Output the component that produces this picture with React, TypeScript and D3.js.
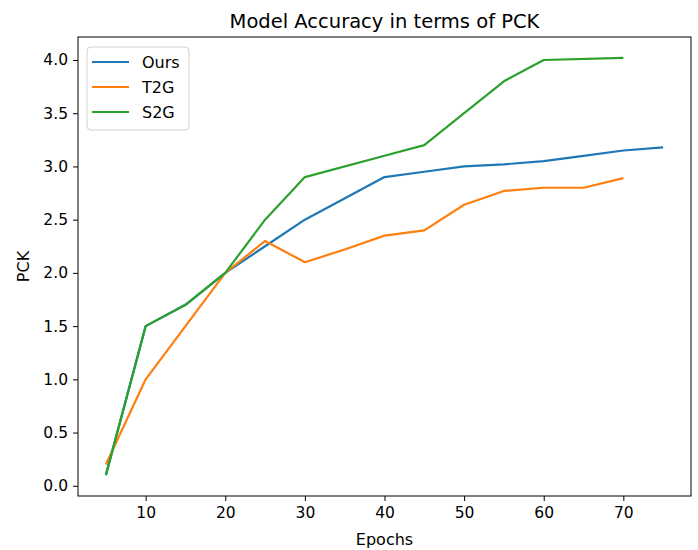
import React, { useEffect, useRef } from "react";
import * as d3 from "d3";

// epochs and PCK
const oursEpochs = [5, 10, 15, 20, 25, 30, 40, 45, 50, 55, 60, 65, 70, 75];
const oursPck = [0.1, 1.5, 1.7, 2.0, 2.25, 2.5, 2.9, 2.95, 3.0, 3.02, 3.05, 3.1, 3.15, 3.18];

const t2gEpochs = [5, 10, 15, 20, 25, 30, 35, 40, 45, 50, 55, 60, 65, 70];
const t2gPck = [0.2, 1.0, 1.5, 2.0, 2.3, 2.1, 2.22, 2.35, 2.4, 2.64, 2.77, 2.8, 2.8, 2.89];

const s2gEpochs = [5, 10, 15, 20, 25, 30, 40, 45, 50, 55, 60, 70];
const s2gPck = [0.1, 1.5, 1.7, 2.0, 2.5, 2.9, 3.1, 3.2, 3.5, 3.8, 4.0, 4.02];

const seriesNames = ["Ours", "T2G", "S2G"];
const seriesColors = ["#1f77b4", "#ff7f0e", "#2ca02c"];
const xTicks = [10, 20, 30, 40, 50, 60, 70];
const yTicks = [0, 0.5, 1.0, 1.5, 2.0, 2.5, 3.0, 3.5, 4.0];

const App = () => {
  const ref = useRef<SVGSVGElement>(null);

  useEffect(() => {
    var width = 698,
      height = 550;
    var margin = { top: 37, right: 7, bottom: 54, left: 78 };
    var font = "DejaVu Sans, sans-serif";

    var svg = d3.select(ref.current);
    svg.selectAll("*").remove();

    var series = [
      { name: seriesNames[0], xs: oursEpochs, ys: oursPck },
      { name: seriesNames[1], xs: t2gEpochs, ys: t2gPck },
      { name: seriesNames[2], xs: s2gEpochs, ys: s2gPck },
    ];

    // matplotlib style 5% padding
    var allX = series.flatMap((s) => s.xs);
    var allY = series.flatMap((s) => s.ys);
    var xMin = d3.min(allX) as number,
      xMax = d3.max(allX) as number;
    var yMin = d3.min(allY) as number,
      yMax = d3.max(allY) as number;
    var xPad = (xMax - xMin) * 0.05,
      yPad = (yMax - yMin) * 0.05;

    var xScale = d3
      .scaleLinear()
      .domain([xMin - xPad, xMax + xPad])
      .range([margin.left, width - margin.right]);
    var yScale = d3
      .scaleLinear()
      .domain([yMin - yPad, yMax + yPad])
      .range([height - margin.bottom, margin.top]);

    var color = d3.scaleOrdinal<string, string>().domain(seriesNames).range(seriesColors);

    // title
    svg
      .append("text")
      .attr("x", (margin.left + width - margin.right) / 2)
      .attr("y", 28)
      .attr("text-anchor", "middle")
      .style("font-family", font)
      .style("font-size", "19.5px")
      .style("fill", "#000")
      .text("Model Accuracy in terms of PCK");

    // axes
    var xAxis = d3
      .axisBottom(xScale)
      .tickValues(xTicks)
      .tickFormat(d3.format("d"))
      .tickSize(5)
      .tickPadding(6);
    var yAxis = d3
      .axisLeft(yScale)
      .tickValues(yTicks)
      .tickFormat(d3.format(".1f"))
      .tickSize(5)
      .tickPadding(5);

    var gx = svg
      .append("g")
      .attr("transform", "translate(0," + (height - margin.bottom) + ")")
      .call(xAxis);
    var gy = svg
      .append("g")
      .attr("transform", "translate(" + margin.left + ",0)")
      .call(yAxis);

    [gx, gy].forEach(function (g) {
      g.select(".domain").remove();
      g.selectAll("line").attr("stroke", "#000").attr("stroke-width", 1);
      g.selectAll("text")
        .style("font-family", font)
        .style("font-size", "15.5px")
        .style("fill", "#000");
    });

    // lines
    var line = d3
      .line<[number, number]>()
      .x(function (d) {
        return xScale(d[0]);
      })
      .y(function (d) {
        return yScale(d[1]);
      });

    svg
      .selectAll(".series")
      .data(series)
      .enter()
      .append("path")
      .attr("class", "series")
      .attr("fill", "none")
      .attr("stroke-width", 2.2)
      .attr("stroke-linejoin", "round")
      .attr("stroke", function (d) {
        return color(d.name);
      })
      .attr("d", function (d) {
        return line(d.xs.map((x, i) => [x, d.ys[i]] as [number, number]));
      });

    // frame
    svg
      .append("rect")
      .attr("x", margin.left)
      .attr("y", margin.top)
      .attr("width", width - margin.left - margin.right)
      .attr("height", height - margin.top - margin.bottom)
      .attr("fill", "none")
      .attr("stroke", "#000")
      .attr("stroke-width", 1);

    // axis labels
    svg
      .append("text")
      .attr("x", (margin.left + width - margin.right) / 2)
      .attr("y", 545)
      .attr("text-anchor", "middle")
      .style("font-family", font)
      .style("font-size", "16px")
      .text("Epochs");

    svg
      .append("text")
      .attr("transform", "translate(29," + (margin.top + height - margin.bottom) / 2 + ") rotate(-90)")
      .attr("text-anchor", "middle")
      .style("font-family", font)
      .style("font-size", "16px")
      .text("PCK");

    // legend
    var legend = svg.append("g").attr("transform", "translate(87,47)");
    legend
      .append("rect")
      .attr("width", 102)
      .attr("height", 83)
      .attr("rx", 4)
      .attr("fill", "#fff")
      .attr("fill-opacity", 0.8)
      .attr("stroke", "#d0d0d0");

    var item = legend
      .selectAll(".item")
      .data(seriesNames)
      .enter()
      .append("g")
      .attr("class", "item")
      .attr("transform", function (d, i) {
        return "translate(0," + (15 + i * 25) + ")";
      });
    item
      .append("line")
      .attr("x1", 5)
      .attr("x2", 42)
      .attr("stroke-width", 2.2)
      .attr("stroke", function (d) {
        return color(d);
      });
    item
      .append("text")
      .attr("x", 55)
      .attr("dy", "0.35em")
      .style("font-family", font)
      .style("font-size", "16px")
      .text(function (d) {
        return d;
      });
  }, []);

  return (
    <svg
      ref={ref}
      width={698}
      height={550}
      style={{ position: "absolute", left: 0, top: 0, background: "#fff" }}
    />
  );
};

export default App;
